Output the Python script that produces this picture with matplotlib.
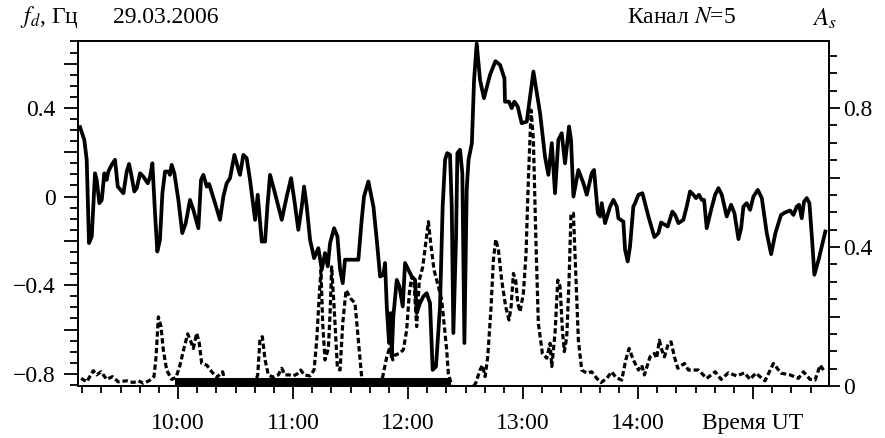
import numpy as np
import matplotlib
matplotlib.use('Agg')
import matplotlib.pyplot as plt
from matplotlib.ticker import MultipleLocator, FuncFormatter, FixedLocator, FixedFormatter

plt.rcParams['font.family'] = ['Liberation Serif', 'DejaVu Serif']
plt.rcParams['mathtext.fontset'] = 'stix'

# Doppler shift f_d (Hz), time in hours UT
fd_time = [9.148, 9.185, 9.206, 9.226, 9.250, 9.278, 9.293, 9.316, 9.337, 9.359,
           9.380, 9.394, 9.423, 9.452, 9.476, 9.525, 9.554, 9.574, 9.591, 9.620,
           9.641, 9.670, 9.698, 9.737, 9.757, 9.777, 9.800, 9.820, 9.843, 9.864,
           9.887, 9.916, 9.930, 9.945, 9.968, 10.003, 10.037, 10.067, 10.104, 10.133,
           10.177, 10.200, 10.220, 10.250, 10.270, 10.322, 10.365, 10.394, 10.423, 10.452,
           10.490, 10.510, 10.539, 10.568, 10.597, 10.626, 10.670, 10.693, 10.707, 10.728,
           10.757, 10.777, 10.800, 10.843, 10.902, 10.945, 10.983, 11.011, 11.046, 11.076,
           11.096, 11.119, 11.148, 11.183, 11.220, 11.250, 11.278, 11.302, 11.322, 11.357,
           11.386, 11.409, 11.432, 11.452, 11.510, 11.568, 11.597, 11.617, 11.655, 11.699,
           11.728, 11.757, 11.786, 11.800, 11.815, 11.835, 11.850, 11.858, 11.872, 11.902,
           11.925, 11.954, 11.974, 12.003, 12.032, 12.061, 12.075, 12.104, 12.133, 12.162,
           12.191, 12.214, 12.243, 12.278, 12.301, 12.322, 12.340, 12.365, 12.380, 12.394,
           12.417, 12.429, 12.452, 12.472, 12.490, 12.510, 12.526, 12.555, 12.574, 12.597,
           12.626, 12.660, 12.713, 12.760, 12.800, 12.838, 12.843, 12.878, 12.901, 12.924,
           12.954, 12.988, 13.032, 13.090, 13.148, 13.191, 13.220, 13.250, 13.278, 13.307,
           13.336, 13.365, 13.400, 13.417, 13.438, 13.481, 13.525, 13.554, 13.597, 13.617,
           13.650, 13.670, 13.684, 13.713, 13.757, 13.786, 13.815, 13.829, 13.872, 13.887,
           13.910, 13.930, 13.959, 13.974, 14.003, 14.038, 14.090, 14.142, 14.177, 14.200,
           14.235, 14.258, 14.298, 14.322, 14.351, 14.394, 14.423, 14.452, 14.481, 14.504,
           14.530, 14.554, 14.574, 14.597, 14.635, 14.670, 14.699, 14.728, 14.771, 14.809,
           14.838, 14.873, 14.896, 14.916, 14.945, 14.974, 15.003, 15.041, 15.076, 15.119,
           15.157, 15.194, 15.243, 15.278, 15.322, 15.351, 15.380, 15.400, 15.423, 15.443,
           15.467, 15.490, 15.513, 15.533, 15.570, 15.628]
fd_vals = [0.313, 0.256, 0.166, -0.210, -0.180, 0.105, 0.075, -0.030, -0.015, 0.105,
           0.075, 0.113, 0.143, 0.166, 0.045, 0.015, 0.113, 0.147, 0.105, 0.023,
           0.038, 0.105, 0.090, 0.060, 0.090, 0.150, -0.075, -0.248, -0.195, 0.015,
           0.113, 0.113, 0.098, 0.143, 0.105, -0.015, -0.165, -0.120, -0.015, -0.060,
           -0.143, 0.075, 0.098, 0.045, 0.057, -0.030, -0.105, 0.000, 0.060, 0.083,
           0.188, 0.150, 0.098, 0.188, 0.173, 0.075, -0.105, 0.008, -0.075, -0.203,
           -0.203, -0.045, 0.098, 0.015, -0.105, 0.000, 0.083, -0.015, -0.150, -0.045,
           0.045, -0.045, -0.195, -0.278, -0.233, -0.330, -0.255, -0.315, -0.210, -0.143,
           -0.180, -0.330, -0.391, -0.285, -0.285, -0.285, -0.105, 0.000, 0.068, -0.045,
           -0.195, -0.361, -0.353, -0.300, -0.496, -0.661, -0.526, -0.722, -0.541, -0.376,
           -0.406, -0.496, -0.300, -0.330, -0.361, -0.376, -0.526, -0.481, -0.451, -0.436,
           -0.481, -0.782, -0.767, -0.496, -0.045, 0.166, 0.196, 0.188, -0.045, -0.616,
           -0.195, 0.196, 0.211, 0.105, -0.661, 0.030, 0.166, 0.241, 0.526, 0.690,
           0.526, 0.444, 0.550, 0.611, 0.594, 0.534, 0.428, 0.428, 0.399, 0.428,
           0.406, 0.331, 0.338, 0.564, 0.376, 0.180, 0.098, 0.241, 0.015, 0.256,
           0.286, 0.150, 0.316, 0.256, 0.000, 0.120, 0.060, 0.008, 0.105, 0.120,
           -0.075, -0.090, -0.030, -0.120, -0.045, -0.015, -0.045, -0.098, -0.113, -0.240,
           -0.293, -0.226, -0.045, -0.030, 0.008, 0.015, -0.090, -0.183, -0.165, -0.117,
           -0.128, -0.135, -0.068, -0.083, -0.120, -0.105, -0.045, 0.023, 0.008, -0.007,
           0.008, -0.015, -0.015, -0.143, -0.060, 0.008, 0.038, 0.008, -0.090, -0.037,
           -0.075, -0.192, -0.143, -0.045, -0.030, -0.060, 0.000, 0.030, -0.007, -0.165,
           -0.260, -0.165, -0.083, -0.072, -0.063, -0.083, -0.045, -0.037, -0.098, -0.023,
           -0.007, -0.030, -0.195, -0.353, -0.285, -0.158]

# Spectral amplitude A_s (right axis); nan = trace lost under the bottom
as_time = [9.157, 9.206, 9.263, 9.293, 9.330, 9.380, 9.429, 9.481, 9.554, 9.611,
           9.655, 9.698, 9.748, 9.791, 9.809, 9.829, 9.852, 9.872, 9.901, 9.945,
           9.983, 10.017, 10.055, 10.084, 10.113, 10.133, 10.162, 10.183, 10.206, 10.250,
           10.293, 10.337, 10.388, 10.42, 10.55, 10.66, 10.693, 10.713, 10.733, 10.757,
           10.785, 10.829, 10.872, 10.902, 10.930, 10.968, 11.003, 11.037, 11.067, 11.096,
           11.148, 11.183, 11.206, 11.229, 11.243, 11.258, 11.278, 11.307, 11.322, 11.336,
           11.357, 11.386, 11.409, 11.432, 11.461, 11.501, 11.539, 11.568, 11.597, 11.63,
           11.70, 11.75, 11.780, 11.815, 11.843, 11.867, 11.887, 11.925, 11.959, 11.988,
           12.011, 12.032, 12.052, 12.075, 12.098, 12.128, 12.157, 12.177, 12.197, 12.226,
           12.264, 12.293, 12.313, 12.336, 12.350, 12.38, 12.47, 12.57, 12.588, 12.626,
           12.646, 12.670, 12.693, 12.722, 12.742, 12.763, 12.786, 12.814, 12.849, 12.878,
           12.896, 12.916, 12.936, 12.954, 12.974, 13.003, 13.026, 13.046, 13.070, 13.090,
           13.110, 13.133, 13.168, 13.206, 13.235, 13.250, 13.278, 13.302, 13.322, 13.342,
           13.359, 13.380, 13.400, 13.417, 13.438, 13.458, 13.481, 13.510, 13.554, 13.597,
           13.641, 13.678, 13.728, 13.771, 13.806, 13.858, 13.893, 13.922, 13.959, 14.003,
           14.032, 14.055, 14.104, 14.142, 14.162, 14.185, 14.206, 14.229, 14.264, 14.287,
           14.316, 14.345, 14.403, 14.438, 14.525, 14.597, 14.670, 14.722, 14.786, 14.858,
           14.925, 14.974, 15.023, 15.104, 15.177, 15.243, 15.322, 15.394, 15.438, 15.496,
           15.539, 15.583, 15.612]
as_vals = [0.022, 0.012, 0.044, 0.032, 0.041, 0.019, 0.027, 0.012, 0.015, 0.010,
           0.015, 0.008, 0.015, 0.027, 0.084, 0.199, 0.171, 0.104, 0.046, 0.019,
           0.025, 0.060, 0.113, 0.150, 0.127, 0.108, 0.152, 0.127, 0.065, 0.060,
           0.041, 0.025, 0.041, 0.0, np.nan, 0.0, 0.032, 0.137, 0.142, 0.075,
           0.032, 0.025, 0.032, 0.051, 0.032, 0.032, 0.029, 0.035, 0.046, 0.032,
           0.029, 0.046, 0.132, 0.267, 0.334, 0.180, 0.075, 0.108, 0.209, 0.343,
           0.228, 0.051, 0.046, 0.180, 0.276, 0.252, 0.238, 0.132, 0.025, 0.0,
           np.nan, 0.0, 0.027, 0.084, 0.113, 0.075, 0.089, 0.094, 0.104, 0.161,
           0.267, 0.315, 0.296, 0.171, 0.305, 0.343, 0.420, 0.473, 0.411, 0.334,
           0.286, 0.247, 0.180, 0.104, 0.037, 0.0, np.nan, 0.0, 0.008, 0.046,
           0.060, 0.027, 0.084, 0.228, 0.363, 0.422, 0.391, 0.305, 0.228, 0.190,
           0.228, 0.324, 0.305, 0.238, 0.214, 0.267, 0.382, 0.593, 0.794, 0.708,
           0.439, 0.180, 0.094, 0.080, 0.123, 0.056, 0.152, 0.305, 0.286, 0.161,
           0.099, 0.142, 0.305, 0.497, 0.497, 0.324, 0.132, 0.046, 0.037, 0.041,
           0.022, 0.010, 0.022, 0.041, 0.025, 0.017, 0.075, 0.108, 0.075, 0.046,
           0.060, 0.032, 0.084, 0.094, 0.080, 0.132, 0.104, 0.084, 0.123, 0.127,
           0.084, 0.051, 0.065, 0.046, 0.046, 0.022, 0.041, 0.019, 0.038, 0.029,
           0.038, 0.019, 0.037, 0.015, 0.065, 0.037, 0.032, 0.022, 0.041, 0.019,
           0.017, 0.060, 0.046]

# interval marked by the black bar on the time axis
bar_interval = [9.97, 12.37]

hour_ticks = [10, 11, 12, 13, 14, 15]
hour_labels = ['10:00', '11:00', '12:00', '13:00', '14:00', 'Время UT']

fig = plt.figure(figsize=(8.85, 4.38), dpi=100)
ax = fig.add_axes([0.0881, 0.1187, 0.8486, 0.7877])
ax2 = ax.twinx()

ax.plot(fd_time, fd_vals, color='black', lw=2.7, solid_joinstyle='round')
ax2.plot(as_time, as_vals, color='black', lw=2.3, linestyle=(0, (1.7, 0.9)))
ax2.plot(bar_interval, [0.0116, 0.0116], color='black', lw=5.8,
         solid_capstyle='butt', transform=ax2.get_xaxis_transform(), zorder=5)

ax.set_xlim(9.13, 15.66)
ax.set_ylim(-0.855, 0.702)
ax2.set_ylim(0, 0.993)

for a in (ax, ax2):
    for s in a.spines.values():
        s.set_linewidth(1.3)

ax.xaxis.set_major_locator(FixedLocator(hour_ticks))
ax.xaxis.set_major_formatter(FixedFormatter(hour_labels))
ax.xaxis.set_minor_locator(MultipleLocator(1 / 6))

lab4 = FuncFormatter(lambda v, p: ('0' if abs(v) < 1e-9 else ('%.1f' % v).replace('-', '\u2212'))
                     if abs(round(v / 0.4) * 0.4 - v) < 1e-6 else '')
ax.yaxis.set_major_locator(MultipleLocator(0.2))
ax.yaxis.set_minor_locator(MultipleLocator(0.05))
ax.yaxis.set_major_formatter(lab4)
ax2.yaxis.set_major_locator(MultipleLocator(0.2))
ax2.yaxis.set_minor_locator(MultipleLocator(0.05))
ax2.yaxis.set_major_formatter(lab4)

ax.tick_params(axis='x', which='major', length=9.5, width=1.3, labelsize=17, pad=10)
ax.tick_params(axis='x', which='minor', length=5, width=1.3)
ax.tick_params(axis='y', which='major', length=10, width=1.3, labelsize=17, pad=6)
ax.tick_params(axis='y', which='minor', length=6, width=1.3)
ax2.tick_params(axis='y', which='major', length=8, width=1.3, labelsize=17, pad=2)
ax2.tick_params(axis='y', which='minor', length=5.5, width=1.3)

fig.text(0.0226, 0.961, '$f_d$, Гц', fontsize=17, va='center', ha='left')
fig.text(0.1277, 0.961, '29.03.2006', fontsize=17, va='center', ha='left')
fig.text(0.708, 0.961, 'Канал $N$=5', fontsize=17, va='center', ha='left')
fig.text(0.918, 0.958, '$A_s$', fontsize=18, va='center', ha='left')

fig.savefig('out.png', dpi=100)
